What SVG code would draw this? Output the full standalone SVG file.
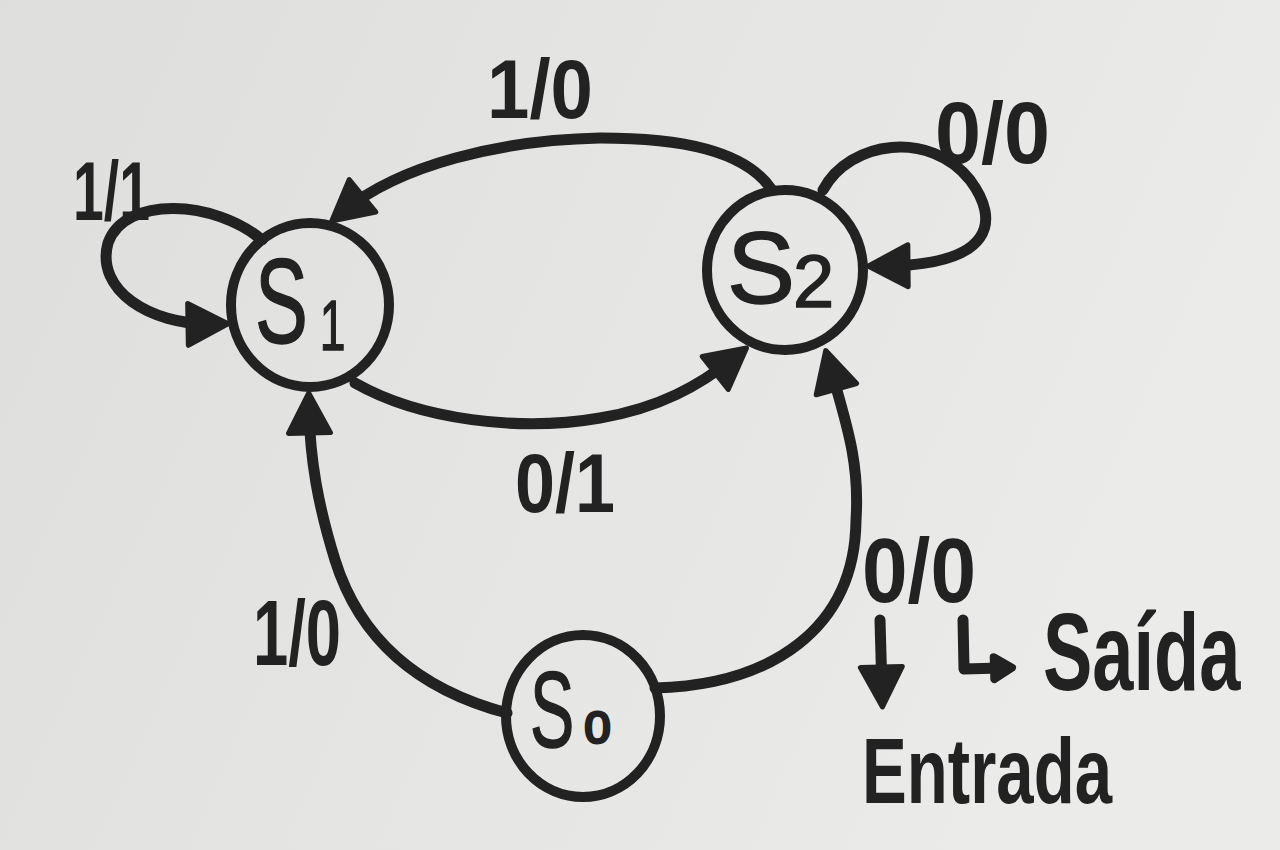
<svg xmlns="http://www.w3.org/2000/svg" width="1280" height="850" viewBox="0 0 1280 850">
  <defs>
    <linearGradient id="paper" x1="0" y1="0" x2="1" y2="0.3">
      <stop offset="0" stop-color="#dedfdd"/>
      <stop offset="1" stop-color="#ebebea"/>
    </linearGradient>
    <marker id="arrow" markerUnits="userSpaceOnUse" markerWidth="56" markerHeight="56" viewBox="-6 -28 56 56" refX="24" refY="0" orient="auto">
      <path d="M0,-21 L40,0 L0,21 Z" fill="#222" stroke="#222" stroke-width="5" stroke-linejoin="round"/>
    </marker>
    <marker id="arrow-sm" markerUnits="userSpaceOnUse" markerWidth="40" markerHeight="40" viewBox="-10 -20 40 40" refX="6" refY="0" orient="auto">
      <path d="M0,-11 L18,0 L0,11 Z" fill="#222" stroke="#222" stroke-width="8" stroke-linejoin="round"/>
    </marker>
  </defs>
  <style>
    .node ellipse { fill: none; stroke: #222; stroke-width: 10; }
    .nl { font-family: "Liberation Sans", Arial, sans-serif; fill: #222; stroke: #222; stroke-width: 1.5; }
    .edge { fill: none; stroke: #222; stroke-width: 11; stroke-linecap: round; stroke-linejoin: round; }
    .el { font-family: "Liberation Sans", Arial, sans-serif; font-weight: bold; fill: #222; }
  </style>
  <rect x="0" y="0" width="1280" height="850" fill="url(#paper)"/>

  <g id="connectors">
    <path id="e-s1-s1" class="edge" d="M262,240 C 215,200 125,195 108,243 C 95,290 150,325 212,324" marker-end="url(#arrow)"/>
    <path id="e-s2-s1" class="edge" d="M772,190 C 745,150 680,138 600,138 C 500,140 400,165 344,211" marker-end="url(#arrow)"/>
    <path id="e-s2-s2" class="edge" d="M823,190 C 850,140 930,130 970,180 C 1000,220 995,265 884,266" marker-end="url(#arrow)"/>
    <path id="e-s1-s2" class="edge" d="M355,383 C 420,420 520,432 600,418 C 660,408 700,385 734,358" marker-end="url(#arrow)"/>
    <path id="e-s0-s1" class="edge" d="M507,713 C 420,690 360,640 335,560 C 318,505 310,460 309,409" marker-end="url(#arrow)"/>
    <path id="e-s0-s2" class="edge" d="M655,688 C 770,685 855,630 856,520 C 860,460 845,420 830,366" marker-end="url(#arrow)"/>
    <path id="legend-in" class="edge" d="M880,620 L882,691" marker-end="url(#arrow)"/>
    <path id="legend-out" class="edge" d="M963,620 L964,669 L1000,668" marker-end="url(#arrow-sm)"/>
  </g>

  <g id="edge-labels">
    <text class="el" x="73" y="220" font-size="84" textLength="77" lengthAdjust="spacingAndGlyphs">1/1</text>
    <text class="el" x="487" y="118" font-size="84" textLength="106" lengthAdjust="spacingAndGlyphs">1/0</text>
    <text class="el" x="935" y="163" font-size="88" textLength="115" lengthAdjust="spacingAndGlyphs">0/0</text>
    <text class="el" x="515" y="512" font-size="84" textLength="100" lengthAdjust="spacingAndGlyphs">0/1</text>
    <text class="el" x="253" y="665" font-size="92" textLength="88" lengthAdjust="spacingAndGlyphs">1/0</text>
    <text class="el" x="862" y="602" font-size="90" textLength="114" lengthAdjust="spacingAndGlyphs">0/0</text>
  </g>

  <g id="legend">
    <text class="el" transform="translate(1043,690) scale(0.74,1.1)" x="0" y="0" font-size="100">Saída</text>
    <text class="el" x="862" y="803" font-size="92" textLength="250" lengthAdjust="spacingAndGlyphs">Entrada</text>
  </g>

  <g id="S1" class="node">
    <ellipse cx="310" cy="305" rx="79" ry="82"/>
    <text class="nl" transform="translate(255,343) scale(0.66,1)"><tspan x="0" y="0" font-size="120">S</tspan><tspan x="98" y="7" font-size="70">1</tspan></text>
  </g>
  <g id="S2" class="node">
    <ellipse cx="785" cy="270" rx="78" ry="80"/>
    <text class="nl"><tspan x="727" y="303" font-size="102">S</tspan><tspan x="793" y="307" font-size="74">2</tspan></text>
  </g>
  <g id="S0" class="node">
    <ellipse cx="583" cy="716" rx="77" ry="81"/>
    <text class="nl" transform="translate(530,747) scale(0.62,1)"><tspan x="0" y="0" font-size="107">S</tspan><tspan x="88" y="-4" font-size="44" stroke-width="3" textLength="42" lengthAdjust="spacingAndGlyphs">0</tspan></text>
  </g>
</svg>
